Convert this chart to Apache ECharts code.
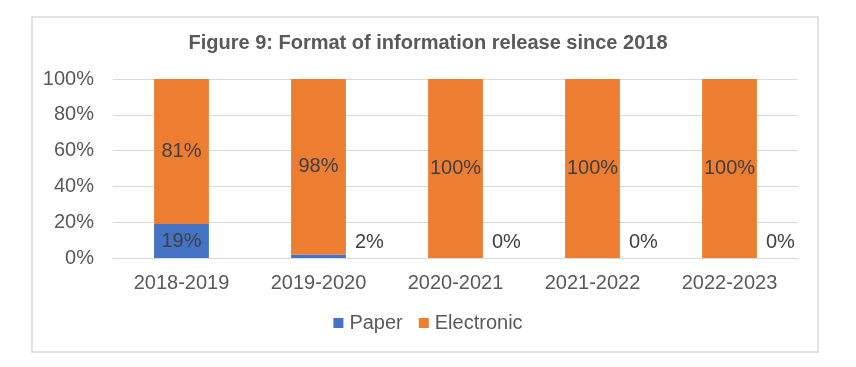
<!DOCTYPE html>
<html>
<head>
<meta charset="utf-8">
<script src="https://cdn.jsdelivr.net/npm/echarts@6/dist/echarts.min.js"></script>
<style>
html,body{margin:0;padding:0;background:#fff;}
#chart{width:856px;height:367px;}
</style>
</head>
<body>
<div id="chart"></div>
<script>
const titleText = 'Figure 9: Format of information release since 2018';
const categories = ['2018-2019', '2019-2020', '2020-2021', '2021-2022', '2022-2023'];
const paper = [19, 2, 0, 0, 0];
const electronic = [81, 98, 100, 100, 100];
const yTicks = [0, 20, 40, 60, 80, 100];

const chart = echarts.init(document.getElementById('chart'), null, {renderer: 'canvas'});
const gridTop = 79, gridBottom = 109;
const plotH = 367 - gridTop - gridBottom;
const pxPerUnit = plotH / 100;
const font = 'Liberation Sans, Arial, sans-serif';
const txt = '#595959';
const lbl = '#404040';
const fs = 20;

const paperData = paper.map(v => {
  if (v >= 10) return {value: v};
  return {value: v, label: {position: 'right', distance: 9, offset: [0, -(15.5 - v * pxPerUnit / 2)]}};
});

chart.setOption({
  animation: false,
  backgroundColor: '#fff',
  graphic: [{
    type: 'rect', shape: {x: 32, y: 17, width: 786, height: 335},
    style: {fill: 'none', stroke: '#d9d9d9', lineWidth: 1.5}, silent: true
  }],
  title: {
    text: titleText, left: 'center', top: 33, padding: 0,
    textStyle: {fontFamily: font, fontSize: fs, fontWeight: 'bold', color: txt}
  },
  legend: {
    data: ['Paper', 'Electronic'], left: 'center', top: 313, padding: 0,
    itemWidth: 10, itemHeight: 10, itemGap: 16, icon: 'rect',
    textStyle: {fontFamily: font, fontSize: fs, color: txt, padding: [0, 0, 0, 1]}
  },
  grid: {left: 113, right: 58, top: gridTop, bottom: gridBottom, containLabel: false},
  xAxis: {
    type: 'category', data: categories,
    axisLine: {show: true, lineStyle: {color: '#d9d9d9', width: 1}},
    axisTick: {show: false},
    axisLabel: {fontFamily: font, fontSize: fs, color: txt, margin: 15}
  },
  yAxis: {
    type: 'value', min: yTicks[0], max: yTicks[yTicks.length - 1], interval: yTicks[1] - yTicks[0],
    axisLine: {show: false}, axisTick: {show: false},
    splitLine: {lineStyle: {color: '#d9d9d9', width: 1}},
    axisLabel: {fontFamily: font, fontSize: fs, color: txt, margin: 19, formatter: '{value}%'}
  },
  series: [
    {
      name: 'Paper', type: 'bar', stack: 'total', data: paperData, barWidth: '40%',
      itemStyle: {color: '#4472C4'},
      label: {show: true, position: 'inside', formatter: '{c}%', fontFamily: font, fontSize: fs, color: lbl}
    },
    {
      name: 'Electronic', type: 'bar', stack: 'total', data: electronic, barWidth: '40%',
      itemStyle: {color: '#ED7D31'},
      label: {show: true, position: 'inside', formatter: '{c}%', fontFamily: font, fontSize: fs, color: lbl}
    }
  ]
});
</script>
</body>
</html>
